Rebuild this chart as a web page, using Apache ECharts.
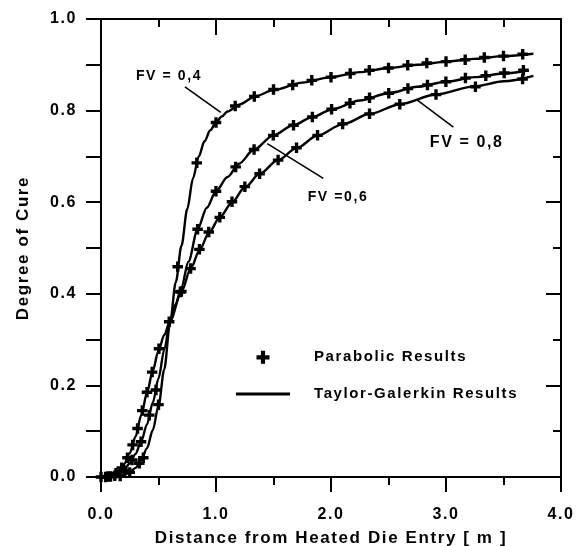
<!DOCTYPE html>
<html><head><meta charset="utf-8">
<script>
(function(){
  const orig = HTMLCanvasElement.prototype.getContext;
  HTMLCanvasElement.prototype.getContext = function(type, opts){
    const ctx = orig.call(this, type, opts);
    if (ctx && type === '2d' && !ctx.__ls) { try { ctx.letterSpacing = '1.6px'; } catch(e){} ctx.__ls = true; }
    return ctx;
  };
})();
</script>
<script src="https://cdn.jsdelivr.net/npm/echarts@6/dist/echarts.min.js"></script>
<style>
html,body{margin:0;padding:0;background:#fff}
#c{width:577px;height:546px}
</style></head><body><div id="c"></div>
<script>
// ---- data ----
const xTickLabels = ['0.0','1.0','2.0','3.0','4.0'];
const yTickLabels = ['0.0','0.2','0.4','0.6','0.8','1.0'];
const seriesNames = ['FV = 0,4','FV =0,6','FV = 0,8'];

// Taylor-Galerkin results (solid lines)
const tgFV04 = [[0,0],[0.1,0.001],[0.2,0.004],[0.25,0.01],[0.3,0.02],[0.35,0.037],[0.4,0.063],[0.45,0.102],[0.5,0.155],[0.55,0.235],[0.6,0.335],[0.65,0.425],[0.7,0.505],[0.75,0.585],[0.8,0.652],[0.85,0.7],[0.9,0.733],[0.95,0.757],[1.0,0.774],[1.05,0.787],[1.1,0.798],[1.2,0.813],[1.35,0.832],[1.5,0.845],[1.75,0.861],[2.0,0.873],[2.25,0.884],[2.5,0.893],[2.75,0.9],[3.0,0.907],[3.25,0.913],[3.5,0.919],[3.76,0.924]];
const tgFV06 = [[0,0],[0.1,0.002],[0.15,0.006],[0.2,0.015],[0.25,0.03],[0.3,0.05],[0.35,0.078],[0.4,0.115],[0.45,0.162],[0.5,0.215],[0.55,0.278],[0.6,0.338],[0.65,0.378],[0.7,0.415],[0.76,0.47],[0.84,0.541],[0.92,0.588],[1.0,0.624],[1.1,0.655],[1.2,0.684],[1.33,0.715],[1.5,0.746],[1.67,0.768],[1.84,0.786],[2.0,0.802],[2.25,0.822],[2.5,0.838],[2.75,0.852],[3.0,0.863],[3.25,0.873],[3.5,0.881],[3.72,0.888]];
const tgFV08 = [[0,0],[0.05,0.001],[0.1,0.004],[0.15,0.013],[0.2,0.028],[0.25,0.052],[0.3,0.088],[0.35,0.135],[0.4,0.184],[0.45,0.232],[0.5,0.276],[0.55,0.31],[0.6,0.34],[0.7,0.405],[0.78,0.455],[0.86,0.497],[0.94,0.534],[1.035,0.568],[1.14,0.6],[1.25,0.632],[1.38,0.662],[1.54,0.692],[1.7,0.718],[1.88,0.745],[2.1,0.77],[2.34,0.793],[2.6,0.814],[2.91,0.835],[3.25,0.853],[3.5,0.864],[3.76,0.876]];

// Parabolic results (plus markers)
const parFV04 = [[0,0],[0.083,0.001],[0.167,0.002],[0.25,0.01],[0.333,0.03],[0.368,0.042],[0.5,0.158],[0.667,0.459],[0.833,0.686],[1.0,0.774],[1.167,0.81],[1.333,0.831],[1.5,0.846],[1.667,0.856],[1.833,0.866],[2.0,0.873],[2.167,0.881],[2.333,0.888],[2.5,0.893],[2.667,0.899],[2.833,0.904],[3.0,0.907],[3.167,0.911],[3.333,0.916],[3.5,0.919],[3.667,0.923]];
const parFV06 = [[0.04,0],[0.12,0.003],[0.2,0.015],[0.27,0.037],[0.348,0.077],[0.42,0.135],[0.478,0.19],[0.69,0.404],[0.84,0.541],[1.0,0.624],[1.171,0.677],[1.331,0.715],[1.498,0.746],[1.674,0.768],[1.838,0.786],[2.005,0.803],[2.165,0.816],[2.335,0.828],[2.502,0.838],[2.669,0.848],[2.839,0.856],[2.999,0.863],[3.169,0.871],[3.346,0.876],[3.506,0.882],[3.673,0.888]];
const parFV08 = [[0.06,0.001],[0.13,0.008],[0.18,0.02],[0.23,0.042],[0.275,0.07],[0.318,0.106],[0.359,0.145],[0.4,0.185],[0.445,0.229],[0.504,0.28],[0.593,0.339],[0.699,0.405],[0.779,0.455],[0.856,0.497],[0.937,0.535],[1.033,0.567],[1.139,0.601],[1.251,0.634],[1.379,0.662],[1.54,0.692],[1.7,0.719],[1.883,0.746],[2.101,0.771],[2.335,0.793],[2.598,0.814],[2.913,0.835],[3.256,0.852],[3.666,0.869]];

// ---- chart ----
const FONT = "'Liberation Sans', Arial, sans-serif";
const PLUS = 'path://M3.4,0H6.6V3.4H10V6.6H6.6V10H3.4V6.6H0V3.4H3.4Z';
const chart = echarts.init(document.getElementById('c'), null, {renderer:'canvas'});

const lineSeries = (data) => ({
  type:'line', name:'Taylor-Galerkin Results', data, showSymbol:false, symbol:'none',
  smooth:0.3, smoothMonotone:'x', color:'#000',
  lineStyle:{color:'#000', width:2.4}, z:3, silent:true
});
const markerSeries = (data) => ({
  type:'scatter', name:'Parabolic Results', data, symbol:PLUS, symbolSize:10.5,
  color:'#000', itemStyle:{color:'#000', opacity:1}, z:4, silent:true
});
const leader = (a,b) => ({
  type:'line', data:[a,b], showSymbol:false, symbol:'none', color:'#000',
  lineStyle:{color:'#000', width:1.6}, silent:true, z:2
});

function makeAxis(pos, max, interval, inside, majorLen, minorLen, extra) {
  const ax = {
    type:'value', position:pos, min:0, max:max, interval:interval,
    axisLine:{show:true, onZero:false, lineStyle:{color:'#000', width:2, opacity:1}},
    axisTick:{show:true, inside:inside, length:majorLen, lineStyle:{color:'#000', width:2, opacity:1}},
    minorTick:{show:true, splitNumber:2, length:minorLen, lineStyle:{color:'#000', width:2, opacity:1}},
    splitLine:{show:false}, minorSplitLine:{show:false},
    axisLabel:{show:false}
  };
  return Object.assign(ax, extra || {});
}

chart.setOption({
  animation:false,
  backgroundColor:'#fff',
  textStyle:{fontFamily:FONT},
  grid:{left:101, right:16, top:19, bottom:69, containLabel:false, outerBoundsMode:'none'},
  xAxis:[
    makeAxis('bottom', 4, 1, false, 15, 8, {
      axisLabel:{show:true, margin:29, fontSize:16, fontWeight:'bold', color:'#000', fontFamily:FONT,
        formatter:(v)=>xTickLabels[Math.round(v)]},
      name:'Distance from Heated Die Entry [ m ]', nameLocation:'middle', nameGap:52,
      nameTextStyle:{fontSize:17, fontWeight:'bold', color:'#000', fontFamily:FONT}
    }),
    makeAxis('top', 4, 1, true, 16, 8)
  ],
  yAxis:[
    makeAxis('left', 1, 0.2, false, 15, 15, {
      axisLabel:{show:true, margin:24, fontSize:16, fontWeight:'bold', color:'#000', fontFamily:FONT,
        formatter:(v)=>yTickLabels[Math.round(v*5)]},
      name:'Degree of Cure', nameLocation:'middle', nameGap:68,
      nameTextStyle:{fontSize:17, fontWeight:'bold', color:'#000', fontFamily:FONT}
    }),
    makeAxis('right', 1, 0.2, true, 15, 8)
  ],
  legend:{
    orient:'vertical', left:231, top:344, itemWidth:54, itemHeight:13, itemGap:20,
    selectedMode:false,
    textStyle:{fontSize:15, fontWeight:'bold', color:'#000', fontFamily:FONT, padding:[0,0,0,19]},
    data:[
      {name:'Parabolic Results', icon:PLUS, itemStyle:{color:'#000', opacity:1}},
      {name:'Taylor-Galerkin Results', icon:'path://M0,0H54V3H0Z', itemStyle:{color:'#000', opacity:1}}
    ]
  },
  series:[
    lineSeries(tgFV04), lineSeries(tgFV06), lineSeries(tgFV08),
    markerSeries(parFV04), markerSeries(parFV06), markerSeries(parFV08),
    leader([0.73,0.852],[1.041,0.796]),
    leader([1.446,0.728],[1.933,0.652]),
    leader([2.745,0.824],[3.064,0.764]),
    {
      type:'scatter', symbolSize:0, silent:true, z:5,
      itemStyle:{opacity:1, color:'#000'},
      data:[
        {value:[0.591,0.875], name:seriesNames[0], label:{fontSize:14}},
        {value:[2.061,0.612], name:seriesNames[1], label:{fontSize:14}},
        {value:[3.18,0.731], name:seriesNames[2], label:{fontSize:16}}
      ],
      label:{show:true, position:'inside', formatter:'{b}', color:'#000', opacity:1, fontWeight:'bold', fontFamily:FONT}
    }
  ]
});
</script></body></html>
